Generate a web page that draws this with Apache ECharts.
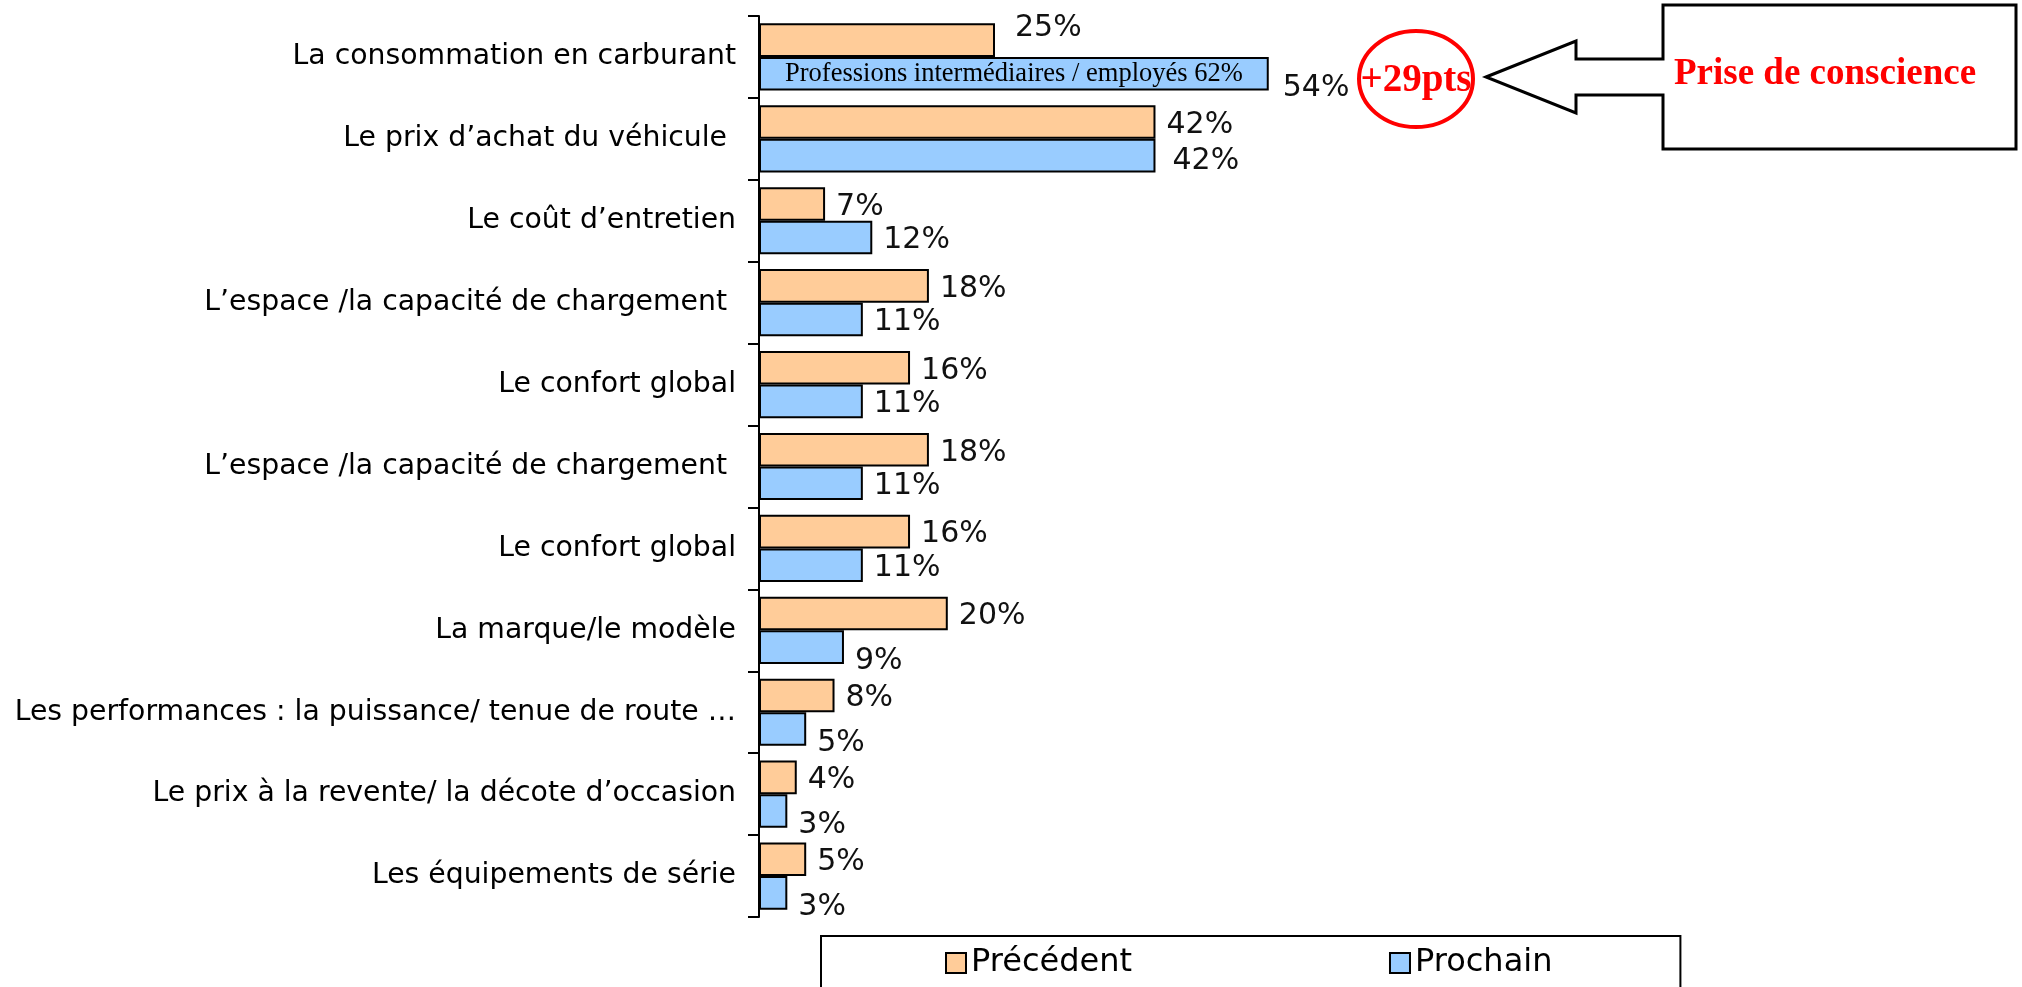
<!DOCTYPE html>
<html>
<head>
<meta charset="utf-8">
<script src="https://cdn.jsdelivr.net/npm/echarts@6.0.0/dist/echarts.min.js"></script>
<style>
html, body { margin: 0; padding: 0; background: #fff; }
#chart { width: 2022px; height: 987px; }
</style>
</head>
<body>
<div id="chart"></div>
<script>
var categories = [
    'La consommation en carburant',
    'Le prix d\u2019achat du véhicule ',
    'Le coût d\u2019entretien',
    'L\u2019espace /la capacité de chargement ',
    'Le confort global',
    'L\u2019espace /la capacité de chargement ',
    'Le confort global',
    'La marque/le modèle',
    'Les performances : la puissance/ tenue de route \u2026',
    'Le prix à la revente/ la décote d\u2019occasion',
    'Les équipements de série'
];
var precedent = [25, 42, 7, 18, 16, 18, 16, 20, 8, 4, 5];
var prochain = [54, 42, 12, 11, 11, 11, 11, 9, 5, 3, 3];
var seriesNames = ['Précédent', 'Prochain'];
var barNote = 'Professions intermédiaires / employés 62%';
var calloutText = 'Prise de conscience';

var chartDom = document.getElementById('chart');
var myChart = echarts.init(chartDom);

var sansFont = 'DejaVu Sans';
var serifFont = 'Liberation Serif';

// label nudges like the original slide (first row, small blue bars)
function orangeItems() {
    return precedent.map(function (v, i) {
        var item = { value: v };
        if (i === 0) item.label = { offset: [9, -12] };
        return item;
    });
}
function blueItems() {
    return prochain.map(function (v, i) {
        var item = { value: v };
        if (i === 0) item.label = { offset: [3, 14] };
        else if (i === 1) item.label = { offset: [6, 6] };
        else if (v < 10) item.label = { offset: [0, 14] };
        return item;
    });
}

var gain = prochain[0] - precedent[0];

let option = {
    backgroundColor: '#fff',
    animation: false,
    grid: {
        left: 759,
        top: 16,
        width: 944,
        height: 901
    },
    legend: {
        data: seriesNames,
        left: 821,
        top: 936,
        padding: [11, 128, 40, 124],
        itemGap: 257,
        itemWidth: 20,
        itemHeight: 20,
        borderColor: '#000',
        borderWidth: 2,
        borderRadius: 0,
        icon: 'rect',
        textStyle: {
            fontFamily: sansFont,
            fontSize: 32,
            color: '#000'
        }
    },
    xAxis: {
        type: 'value',
        min: 0,
        max: 100,
        show: false
    },
    yAxis: {
        type: 'category',
        inverse: true,
        data: categories,
        axisLine: { show: true, lineStyle: { color: '#000', width: 2 } },
        axisTick: { show: true, length: 11, lineStyle: { color: '#000', width: 2 } },
        axisLabel: {
            margin: 23,
            fontFamily: sansFont,
            fontSize: 28.3,
            color: '#000'
        },
        splitLine: { show: false }
    },
    series: [{
        name: seriesNames[0],
        type: 'bar',
        data: orangeItems(),
        barGap: 0,
        barCategoryGap: '18%',
        itemStyle: { color: '#FFCC99', borderColor: '#000', borderWidth: 2 },
        label: {
            show: true,
            position: 'right',
            distance: 11,
            offset: [0, 3],
            formatter: '{c}%',
            fontFamily: sansFont,
            fontSize: 30,
            color: '#111'
        }
    }, {
        name: seriesNames[1],
        type: 'bar',
        data: blueItems(),
        barGap: 0,
        barCategoryGap: '18%',
        itemStyle: { color: '#99CCFF', borderColor: '#000', borderWidth: 2 },
        label: {
            show: true,
            position: 'right',
            distance: 11,
            offset: [0, 3],
            formatter: '{c}%',
            fontFamily: sansFont,
            fontSize: 30,
            color: '#111'
        },
        markPoint: {
            symbol: 'rect',
            symbolSize: 0,
            silent: true,
            label: {
                show: true,
                position: 'inside',
                formatter: barNote,
                fontFamily: serifFont,
                fontSize: 26.5,
                color: '#000'
            },
            data: [{ coord: [prochain[0] / 2, 0] }]
        }
    }],
    graphic: [{
        type: 'polygon',
        shape: {
            points: [[1486, 77], [1576, 41], [1576, 59], [1663, 59], [1663, 5], [2016, 5],
                [2016, 149], [1663, 149], [1663, 95], [1576, 95], [1576, 113]]
        },
        style: { fill: '#fff', stroke: '#000', lineWidth: 3 }
    }, {
        type: 'text',
        left: 1674,
        top: 56,
        style: {
            text: calloutText,
            fontFamily: serifFont,
            fontWeight: 'bold',
            fontSize: 37,
            fill: '#FF0000'
        }
    }, {
        type: 'ellipse',
        shape: { cx: 1416, cy: 79, rx: 57, ry: 48 },
        style: { fill: 'none', stroke: '#FF0000', lineWidth: 4 }
    }, {
        type: 'text',
        x: 1416,
        y: 81,
        style: {
            text: '+' + gain + 'pts',
            fontFamily: serifFont,
            fontWeight: 'bold',
            fontSize: 39,
            fill: '#FF0000',
            align: 'center',
            verticalAlign: 'middle'
        }
    }]
};

myChart.setOption(option);
</script>
</body>
</html>
